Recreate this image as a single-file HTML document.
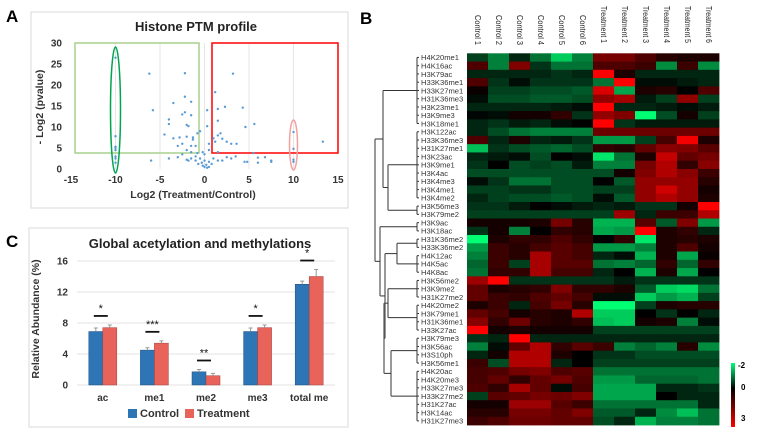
<!DOCTYPE html>
<html><head><meta charset="utf-8"><style>
body{margin:0;background:#fff;}
svg{display:block;font-family:"Liberation Sans",sans-serif;}
</style></head><body>
<svg id="fig" width="771" height="433" viewBox="0 0 771 433">
<g id="pa">
<text x="6" y="22" font-size="17" font-weight="bold">A</text>
<rect x="31" y="12" width="317" height="196" fill="#fff" stroke="#d9d9d9"/>
<text x="196" y="31" font-size="13" font-weight="bold" text-anchor="middle" fill="#222">Histone PTM profile</text>
<text x="193" y="198" font-size="10.5" font-weight="bold" fill="#333" text-anchor="middle">Log2 (Treatment/Control)</text>
<text transform="translate(43,107) rotate(-90)" font-size="10.5" font-weight="bold" fill="#333" text-anchor="middle">- Log2 (pvalue)</text>
</g>
<g id="pc">
<text x="6" y="247" font-size="17" font-weight="bold">C</text>
<rect x="29" y="228" width="319" height="199" fill="#fff" stroke="#d9d9d9"/>
<text x="200" y="248" font-size="13" font-weight="bold" text-anchor="middle" fill="#222">Global acetylation and methylations</text>
<text transform="translate(39,319) rotate(-90)" font-size="10.5" font-weight="bold" fill="#333" text-anchor="middle">Relative Abundance (%)</text>
<rect x="128" y="409" width="9" height="9" fill="#2e75b6"/>
<text x="140" y="417" font-size="11" font-weight="bold" fill="#333">Control</text>
<rect x="185" y="409" width="9" height="9" fill="#e8645a"/>
<text x="197" y="417" font-size="11" font-weight="bold" fill="#333">Treatment</text>
</g>
<g id="pb">
<text x="360" y="24" font-size="17" font-weight="bold">B</text>
<rect x="731" y="363" width="4" height="64" fill="url(#cb)"/>
<defs><linearGradient id="cb" x1="0" y1="0" x2="0" y2="1"><stop offset="0" stop-color="#00ff78"/><stop offset="0.4" stop-color="#000"/><stop offset="1" stop-color="#ff0000"/></linearGradient></defs>
<text x="738" y="368" font-size="8" font-weight="bold">-2</text>
<text x="741" y="390" font-size="8" font-weight="bold">0</text>
<text x="741" y="421" font-size="8" font-weight="bold">3</text>
</g>
</svg>
<script>
var NS="http://www.w3.org/2000/svg";
function mk(p,t,a){var e=document.createElementNS(NS,t);for(var k in a)e.setAttribute(k,a[k]);p.appendChild(e);return e;}
// ---- Panel A data ----
var volcanoX=[-10,-10,-10,-10,-10,-10,-10,-10,-6.2,-5.8,-6,-2.2,-2.2,-1.5,-3.5,-2.5,-2.2,-1.5,-4,-4,-2,-1.8,-4.5,-3.5,-2.8,-2,-1.3,-1.3,-0.8,-0.5,-3,-2.5,-1.5,-1,-2,-1.5,-2.5,-4,-3,-2,-1.5,-1,-0.5,0,-0.3,0.2,0.5,-0.7,-1,-1.8,0.3,0,-0.2,0.5,0.8,1,1.5,2,2.5,3,3.5,1.2,3.2,1.5,2.3,0.3,1.5,0.3,1.8,1.5,1,2,2.5,3,1.2,0.5,4.3,4.6,5.6,3.6,5.5,4.8,4.5,6,6,6.8,7.5,7.5,10,10,10,10,13.3,-0.2,0.5,1.5,0,-0.8];
var volcanoY=[26.5,7.8,5.3,5,4.5,3,2.5,1.5,22.7,14,2,22.8,17.2,16,15.7,13,13.5,12.8,11.8,10.7,10.5,10.2,8.2,7.3,7.5,7.7,7.5,7,8.5,9,5.5,6,5.5,5.5,4.5,4,3.5,2.5,2.8,2.2,2.5,3,2.5,2,1.5,1,1.7,1.2,2,2,0.3,0.5,0.8,0.5,1.2,2.5,2,2,2.8,2.5,3,18.3,22.7,14.3,14.8,14,11.5,10.2,8.5,8,7.3,7.2,6.5,6,6.5,6,14.6,10,10.7,6,3.8,1.7,1.7,2.7,1.5,2.8,2,1.7,8.8,4.8,2.2,1.7,6.5,4,4.5,4,3.5,3.8];
var xTicksA=[-15,-10,-5,0,5,10,15];
var yTicksA=[0,5,10,15,20,25,30];
function ax(x){return 71+(x+15)*8.9;}
function ay(y){return 169-y*4.2;}
var pa=document.getElementById('pa');
xTicksA.forEach(function(t){
 if(t!==-15&&t!==15){var g=mk(pa,'line',{x1:ax(t),x2:ax(t),y1:ay(0),y2:ay(30),stroke:'#e6e6e6'});
 
 }
 var l=mk(pa,'text',{x:ax(t),y:183,'font-size':10,'font-weight':'bold','text-anchor':'middle',fill:'#333'});l.textContent=t;
 
 
});
yTicksA.forEach(function(t){
 var l=mk(pa,'text',{x:62,y:ay(t)+3.5,'font-size':10,'font-weight':'bold','text-anchor':'end',fill:'#333'});l.textContent=t;
 
 
});
var r1=mk(pa,'rect',{x:75,y:43,width:124,height:110,fill:'none',stroke:'#a9d18e','stroke-width':1.5});


var r2=mk(pa,'rect',{x:212,y:43,width:126,height:110,fill:'none',stroke:'#ff0000','stroke-width':1.5});


for(var i=0;i<volcanoX.length;i++){
 var c=mk(pa,'circle',{cx:ax(volcanoX[i]),cy:ay(volcanoY[i]),r:1.2,fill:'#5b9bd5'});
 
 
}
var e1=mk(pa,'ellipse',{cx:ax(-10),cy:110,rx:5,ry:63,fill:'none',stroke:'#00a550','stroke-width':1.5});


var e2=mk(pa,'ellipse',{cx:ax(10),cy:145,rx:4,ry:25,fill:'none',stroke:'#f4a0a0','stroke-width':1.5});



// ---- Panel C data ----
var barCats=['ac','me1','me2','me3','total me'];
var controlVals=[6.9,4.5,1.7,6.9,13.0];
var treatVals=[7.4,5.4,1.2,7.4,14.0];
var controlErr=[0.45,0.3,0.3,0.45,0.4];
var treatErr=[0.35,0.3,0.3,0.35,0.9];
var sigMarks=['*','***','**','*','*'];
var yTicksC=[0,4,8,12,16];
function cy(v){return 385-v*7.75;}
var pc=document.getElementById('pc');
yTicksC.forEach(function(t){
 var g=mk(pc,'line',{x1:77,x2:335,y1:cy(t),y2:cy(t),stroke:'#e3e3e3'});
 
 
 var l=mk(pc,'text',{x:68,y:cy(t)+3.5,'font-size':10,'font-weight':'bold','text-anchor':'end',fill:'#333'});l.textContent=t;
 
 
});
var cw=(335-77)/barCats.length;
barCats.forEach(function(cat,i){
 var cx0=77+cw*(i+0.5);
 var b1=mk(pc,'rect',{x:cx0-14,y:cy(controlVals[i]),width:14,height:cy(0)-cy(controlVals[i]),fill:'#2e75b6',stroke:'#1f4e79','stroke-width':0.5});
 
 
 var b2=mk(pc,'rect',{x:cx0,y:cy(treatVals[i]),width:14,height:cy(0)-cy(treatVals[i]),fill:'#e8645a',stroke:'#a04040','stroke-width':0.5});
 
 
 [[cx0-7,controlVals[i],controlErr[i]],[cx0+7,treatVals[i],treatErr[i]]].forEach(function(q){
  var el=mk(pc,'path',{d:'M'+q[0]+','+cy(q[1])+'V'+cy(q[1]+q[2])+'M'+(q[0]-2)+','+cy(q[1]+q[2])+'H'+(q[0]+2),stroke:'#999',fill:'none'});
  
  
 });
 var top=Math.max(controlVals[i]+controlErr[i],treatVals[i]+treatErr[i]);
 var sy=cy(top)-9;
 var sl=mk(pc,'line',{x1:cx0-9,x2:cx0+5,y1:sy,y2:sy,stroke:'#111','stroke-width':1.8});
 
 
 var st=mk(pc,'text',{x:cx0-2,y:sy-4,'font-size':11,'text-anchor':'middle',fill:'#111'});st.textContent=sigMarks[i];
 
 
 var cl=mk(pc,'text',{x:cx0,y:401,'font-size':10,'font-weight':'bold','text-anchor':'middle',fill:'#333'});cl.textContent=cat;
 
 
});

// ---- Panel B data ----
var sampleNames=['Control 1','Control 2','Control 3','Control 4','Control 5','Control 6','Treatment 1','Treatment 2','Treatment 3','Treatment 4','Treatment 5','Treatment 6'];
var rowNames=['H4K20me1','H4K16ac','H3K79ac','H33K36me1','H33K27me1','H31K36me3','H3K23me1','H3K9me3','H3K18me1','H3K122ac','H33K36me3','H31K27me1','H3K23ac','H3K9me1','H3K4ac','H3K4me3','H3K4me1','H3K4me2','H3K56me3','H3K79me2','H3K9ac','H3K18ac','H31K36me2','H33K36me2','H4K12ac','H4K5ac','H4K8ac','H3K56me2','H3K9me2','H31K27me2','H4K20me2','H3K79me1','H31K36me1','H33K27ac','H3K79me3','H3K56ac','H3S10ph','H3K56me1','H4K20ac','H4K20me3','H33K27me3','H33K27me2','H31K27ac','H3K14ac','H31K27me3'];
var heatValues=[
[-0.5,-1,-0.3,-0.9,-1.6,-1,1.2,1.2,0.8,0.4,0.3,0.3],
[0.8,-1,1.3,-0.4,-0.9,-0.9,0.8,0.8,0.6,-1.1,0.6,-1.1],
[-0.3,-0.3,-0.3,-0.3,-0.4,-0.3,3,0.3,-0.3,-0.3,-0.3,-0.3],
[0.8,-0.4,-0.1,-0.4,-0.4,-0.4,-0.9,3,-0.1,-0.1,-0.2,-0.3],
[0.1,-0.5,-0.5,-0.6,-0.6,-0.7,2.2,-1.3,0.3,0.4,0,0.8],
[-0.1,-0.6,-0.6,-0.7,-0.7,-0.6,1.5,1.7,-0.2,-0.5,1.5,-0.5],
[-0.3,-0.3,-0.3,-0.3,-0.2,-0.1,3,-0.3,-0.3,-0.2,-0.1,-0.2],
[-0.05,-0.1,0.2,0.2,0.5,-0.4,1.5,1.3,-2,-0.6,0.2,-0.5],
[-0.3,-0.4,-0.2,-0.3,-0.1,0,3,-0.4,-0.2,-0.2,-0.2,-0.2],
[-0.3,-0.6,-0.9,-1,-1,-1,1.1,1.1,1.1,1.1,1.1,1.1],
[0.8,-0.3,0.3,-0.3,-0.2,-0.4,-1.2,-1.2,-0.5,0.7,2.5,0.3],
[-1.5,-0.4,-0.6,-0.7,-0.8,-0.6,0.5,0.4,1,1.4,1.3,0.9],
[-0.3,-0.2,-0.1,-0.6,0,-0.1,-1.8,-0.9,0.3,2,1,1.2],
[-0.4,0,-0.6,-0.5,-0.6,-0.2,-1,-1,1.2,1.8,0.5,1.4],
[-0.6,-0.6,-0.6,-0.6,-0.6,-0.6,-0.6,0.2,1.3,1.8,1.4,0.6],
[-0.1,-0.4,-0.9,-0.9,-0.6,-0.6,0,-0.7,1.5,1.5,1.5,0.4],
[-0.5,-0.5,-0.4,-0.4,-0.6,-0.6,-0.5,-0.5,1.5,2.1,1.5,0.2],
[-0.3,-0.5,-0.6,-0.6,-0.7,-0.6,-0.1,-0.7,1.5,1.8,1.5,0.3],
[-0.4,-0.4,-0.2,0,-0.1,-0.2,-0.3,-0.2,-0.4,-0.4,0.2,3],
[-0.5,-0.5,-0.5,-0.5,-0.5,-0.5,-0.5,1.6,-0.3,0.6,0.6,1.8],
[0.2,0.2,0.2,0.3,1.2,0.4,-1.4,-1.4,0.9,-0.7,1.3,-1.2],
[-0.4,0.2,-1,0,0.5,0.4,-1.3,-1.2,2.7,0.3,0.5,-0.3],
[-2,0.3,0.5,0.5,0.8,0.5,0,0.5,-1.8,0.3,0.4,0.3],
[-1.2,0.6,0.4,0.7,0.9,0.7,-1.2,-1.2,-1,0.3,0.8,0.2],
[-1,0.6,0.4,1.7,0.9,0.7,-0.3,-0.1,-1.4,0.3,-1.3,0.1],
[-0.8,0.6,-0.5,1.7,0.9,0.9,-0.9,-1,-0.8,0.5,-0.8,0.5],
[-0.9,0.5,0.5,1.7,0.7,0.7,-0.3,0,-1.4,0.3,-1.3,0],
[1.6,2.6,-0.4,-0.4,-0.4,-0.4,-0.4,-0.2,-0.4,-0.4,-0.4,-0.4],
[1,0.3,0.4,0.5,1.3,0.5,0.5,0.3,-0.7,-1.6,-1.7,-0.9],
[1,0.6,0.5,0.8,1,0.7,-0.1,-0.1,-1.6,-1.2,-1.4,-0.5],
[0.3,0.6,-0.3,0.7,1.2,0.4,-2,-2,-0.5,0.3,0.4,0.4],
[1,0.7,0.2,0.4,0.3,1.8,-1.6,-1.6,0,-0.4,0,-0.3],
[1.4,0.5,1.1,0.4,0.3,0.5,-1.5,-1.6,0.2,0.3,-1,-0.1],
[3,0.2,0.3,0.2,0.2,0.2,-0.5,-0.5,-0.5,-0.5,-0.5,-0.5],
[-0.4,-0.3,3,-0.3,-0.3,-0.3,-0.3,-0.3,-0.3,-0.3,-0.3,-0.3],
[-1,-0.1,1,1.8,0.5,0.9,0.6,-1,-0.8,-1,0.4,-1.1],
[-0.3,0.2,1.8,1.8,0.3,0,-0.4,-0.4,-0.6,-0.6,-0.6,-0.6],
[0.6,-0.6,1.8,1.8,-0.3,0,-0.5,-0.5,-0.5,-0.5,-0.5,-0.5],
[0.7,0.8,1.2,1.3,0.8,0.9,-0.9,-0.9,-0.9,-0.9,-0.9,-0.9],
[0.7,1,0.5,1,1.2,0.8,-1.2,-1.2,-0.8,-0.8,-0.8,-0.9],
[0.8,0.5,1.7,1,-0.1,0.7,-1.3,-1.3,-1.3,-0.3,-0.3,-0.4],
[-0.5,0.9,1,1.2,1.1,1.3,-1.3,-1.3,-1.3,0,-0.3,-0.3],
[0.2,0.2,1.6,1.6,0.9,0.6,-0.9,-0.9,-0.9,-0.9,-0.9,-0.3],
[0.4,0.4,1.2,1.2,1,1.3,-0.7,-0.7,-0.3,-1.1,-1.5,-0.9],
[0.6,0.8,1.1,1.1,1,1,-0.6,-0.3,-1.4,-1,-1,-0.9]];
var pb=document.getElementById('pb');
var hx0=467,hx1=719,hy0=53.3,hy1=425;
var cwB=(hx1-hx0)/sampleNames.length,rh=(hy1-hy0)/rowNames.length;
function col(v){
 if(v<0){var t=Math.min(1,-v/2);return 'rgb(0,'+Math.round(255*t)+','+Math.round(115*t)+')';}
 var t2=Math.min(1,v/2.6);return 'rgb('+Math.round(255*t2)+',0,0)';
}
heatValues.forEach(function(row,r){
 row.forEach(function(v,c){
  var cell=mk(pb,'rect',{x:hx0+c*cwB,y:hy0+r*rh,width:cwB+0.4,height:rh+0.4,fill:col(v)});
  
  
 });
 var lb=mk(pb,'text',{x:421,y:hy0+(r+0.5)*rh+2.8,'font-size':7.6,fill:'#333'});lb.textContent=rowNames[r];
 
 
});
sampleNames.forEach(function(n,c){
 var x=hx0+(c+0.5)*cwB-2.5;
 var isT=c>=6;
 var bottom=isT?43:45;
 var t=mk(pb,'text',{transform:'translate('+x+','+bottom+') rotate(90)','font-size':7.8,'text-anchor':'end',fill:'#222',textLength:isT?37:30,lengthAdjust:'spacingAndGlyphs'});t.textContent=n;
 
 
});
// dendrogram
function rc(i){return hy0+(i+0.5)*rh;}
function rng(a,b){var o=[];for(var i=a;i<=b;i++)o.push(i);return o;}
var tree=[375,[383,[417].concat(rng(0,8)),[388,[417].concat(rng(9,17)),[417,18,19]]],
 [380,[417,20,21],[385,[397,[417,22,23],[417,24,25,26]],[384,[388,[417,27,28,29],[417,30,31,32,33]],[391,[417,34,35,36,37],[417].concat(rng(38,44))]]]]];
function draw(node){
 var x=node[0],cs=[];
 for(var k=1;k<node.length;k++){
  var ch=node[k],cyv,cx;
  if(typeof ch==='number'){cyv=rc(ch);cx=419;}else{cyv=draw(ch);cx=ch[0];}
  var h=mk(pb,'line',{x1:x,x2:cx,y1:cyv,y2:cyv,stroke:'#333','stroke-width':1});
  
  
  cs.push(cyv);
 }
 var mn=Math.min.apply(null,cs),mx=Math.max.apply(null,cs);
 var v=mk(pb,'line',{x1:x,x2:x,y1:mn,y2:mx,stroke:'#555','stroke-width':1.2});
 
 
 return (mn+mx)/2;
}
draw(tree);
</script>
</body></html>
